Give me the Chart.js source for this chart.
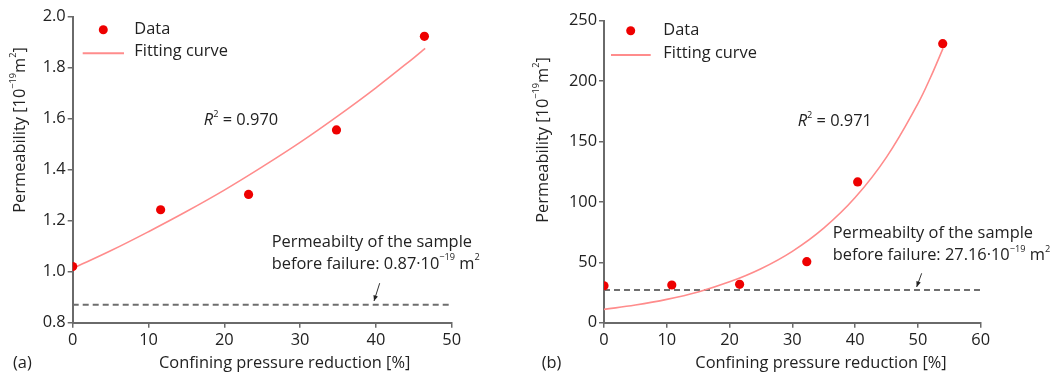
<!DOCTYPE html>
<html>
<head>
<meta charset="utf-8">
<script src="https://cdn.jsdelivr.net/npm/chart.js@4/dist/chart.umd.min.js"></script>
<style>
    body { margin: 0; background: #fff; }
    .panel { position: absolute; top: 0; height: 374px; }
</style>
</head>
<body>
<div class="panel" style="left:0;width:530px"><canvas id="chartA" width="530" height="374"></canvas></div>
<div class="panel" style="left:530px;width:523px"><canvas id="chartB" width="523" height="374"></canvas></div>
<script>
// Panel (a)
const pressureA = [0, 11.6, 23.2, 34.8, 46.4];
const permeabilityA = [1.02, 1.243, 1.303, 1.556, 1.923];
const fitPressureA = [0, 5, 10, 15, 20, 25, 30, 35, 40, 45, 46.5];
const fitPermeabilityA = [1.013, 1.082, 1.157, 1.236, 1.320, 1.411, 1.507, 1.611, 1.721, 1.839, 1.876];
const beforeFailureA = 0.87;
const xTicksA = [0, 10, 20, 30, 40, 50];
const yTicksA = [0.8, 1.0, 1.2, 1.4, 1.6, 1.8, 2.0];

// Panel (b)
const pressureB = [0, 10.8, 21.6, 32.3, 40.4, 53.95];
const permeabilityB = [30.6, 31.2, 31.8, 50.5, 116.5, 231];
const fitPressureB = [0, 5, 10, 15, 20, 25, 30, 35, 40, 45, 50, 52, 54];
const fitPermeabilityB = [11.0, 14.6, 19.3, 25.5, 33.8, 44.7, 59.1, 78.3, 103.6, 137.1, 181.4, 203.0, 227.1];
const beforeFailureB = 27.16;
const xTicksB = [0, 10, 20, 30, 40, 50, 60];
const yTicksB = [0, 50, 100, 150, 200, 250];

const textColor = '#222';
const axisColor = '#6a6a6a';
const pointColor = '#ee0000';
const curveColor = '#ff8c8c';
const fontFamily = '"Open Sans", "DejaVu Sans", sans-serif';
const fontSize = 16.4;

// draws text made of parts, some of them superscript or italic
function richWidth(ctx, parts, size) {
    let w = 0;
    parts.forEach(p => {
        const s = p.sup ? size * 0.56 : size;
        ctx.font = (p.italic ? 'italic ' : '') + s + 'px ' + fontFamily;
        w += ctx.measureText(p.t).width;
    });
    return w;
}

function drawRich(ctx, parts, x, y, size, align) {
    let cx = align === 'center' ? x - richWidth(ctx, parts, size) / 2 : x;
    ctx.textAlign = 'left';
    ctx.textBaseline = 'middle';
    parts.forEach(p => {
        const s = p.sup ? size * 0.56 : size;
        ctx.font = (p.italic ? 'italic ' : '') + s + 'px ' + fontFamily;
        ctx.fillText(p.t, cx, p.sup ? y - size * 0.4 : y);
        cx += ctx.measureText(p.t).width;
    });
}

const yTitleParts = [
    { t: 'Permeability [10' }, { t: '\u221219', sup: true }, { t: 'm' }, { t: '2', sup: true }, { t: ']' }
];
const xTitleParts = [{ t: 'Confining pressure reduction [%]' }];

function makeChart(canvasId, panel) {
    const decor = {
        id: 'decor',
        afterDraw(chart) {
            const ctx = chart.ctx;
            const xs = chart.scales.x;
            const ys = chart.scales.y;
            ctx.save();

            // legend
            const lg = panel.legend;
            ctx.fillStyle = pointColor;
            ctx.beginPath();
            ctx.arc(lg.dotX, lg.dotY, 4.5, 0, Math.PI * 2);
            ctx.fill();
            ctx.strokeStyle = curveColor;
            ctx.lineWidth = 2;
            ctx.beginPath();
            ctx.moveTo(lg.lineX1, lg.lineY);
            ctx.lineTo(lg.lineX2, lg.lineY);
            ctx.stroke();
            ctx.fillStyle = textColor;
            drawRich(ctx, [{ t: chart.data.datasets[0].label }], lg.textX, lg.dotY, fontSize);
            drawRich(ctx, [{ t: chart.data.datasets[1].label }], lg.textX, lg.lineY - 1.5, fontSize);

            // R squared
            drawRich(ctx, [{ t: 'R', italic: true }, { t: '2', sup: true }, { t: ' = ' + panel.r2 }],
                xs.getPixelForValue(panel.r2Pos[0]), ys.getPixelForValue(panel.r2Pos[1]), fontSize);

            // note about the sample before failure
            drawRich(ctx, [{ t: 'Permeabilty of the sample' }],
                xs.getPixelForValue(panel.notePos[0]), ys.getPixelForValue(panel.notePos[1]), fontSize);
            drawRich(ctx, [{ t: 'before failure: ' + panel.noteValue + '\u00b710' }, { t: '\u221219', sup: true },
                { t: ' m' }, { t: '2', sup: true }],
                xs.getPixelForValue(panel.notePos[0]), ys.getPixelForValue(panel.notePos[2]), fontSize);

            // arrow
            const ax1 = xs.getPixelForValue(panel.arrow[0]);
            const ay1 = ys.getPixelForValue(panel.arrow[1]);
            const ax2 = xs.getPixelForValue(panel.arrow[2]);
            const ay2 = ys.getPixelForValue(panel.arrow[3]);
            const ang = Math.atan2(ay2 - ay1, ax2 - ax1);
            ctx.strokeStyle = '#333';
            ctx.lineWidth = 1;
            ctx.beginPath();
            ctx.moveTo(ax1, ay1);
            ctx.lineTo(ax2, ay2);
            ctx.stroke();
            ctx.fillStyle = '#222';
            ctx.beginPath();
            ctx.moveTo(ax2, ay2);
            ctx.lineTo(ax2 - 6 * Math.cos(ang - 0.4), ay2 - 6 * Math.sin(ang - 0.4));
            ctx.lineTo(ax2 - 6 * Math.cos(ang + 0.4), ay2 - 6 * Math.sin(ang + 0.4));
            ctx.closePath();
            ctx.fill();

            // axis titles and panel letter
            ctx.fillStyle = textColor;
            drawRich(ctx, xTitleParts, xs.left + panel.xTitleOffset, 363, fontSize, 'center');
            drawRich(ctx, [{ t: panel.letter }], panel.letterX, 363, fontSize);
            ctx.translate(panel.yTitleX, panel.yTitleY);
            ctx.rotate(-Math.PI / 2);
            drawRich(ctx, yTitleParts, 0, 0, fontSize, 'center');
            ctx.restore();
        }
    };

    return new Chart(document.getElementById(canvasId), {
        type: 'scatter',
        data: {
            datasets: [{
                label: 'Data',
                data: panel.x.map((v, i) => ({ x: v, y: panel.y[i] })),
                backgroundColor: pointColor,
                borderWidth: 0,
                pointRadius: 4.6,
            }, {
                label: 'Fitting curve',
                type: 'line',
                data: panel.fitX.map((v, i) => ({ x: v, y: panel.fitY[i] })),
                borderColor: curveColor,
                borderWidth: 1.6,
                pointRadius: 0,
                tension: 0.4,
                fill: false,
            }, {
                label: 'Before failure',
                type: 'line',
                data: [{ x: panel.xTicks[0], y: panel.before }, { x: panel.xTicks[panel.xTicks.length - 1], y: panel.before }],
                borderColor: '#6e6e6e',
                borderWidth: 2,
                borderDash: [6, 4],
                pointRadius: 0,
                fill: false,
            }],
        },
        options: {
            responsive: false,
            animation: false,
            devicePixelRatio: 1,
            layout: { padding: panel.padding },
            plugins: {
                legend: { display: false },
                tooltip: { enabled: false },
            },
            scales: {
                x: {
                    type: 'linear',
                    min: panel.xTicks[0],
                    max: panel.xTicks[panel.xTicks.length - 1],
                    afterBuildTicks: s => { s.ticks = panel.xTicks.map(v => ({ value: v })); },
                    afterFit: s => { s.height = 51.3; },
                    grid: { drawOnChartArea: false, tickLength: 5, color: axisColor, lineWidth: 1.5 },
                    border: { color: axisColor, width: 2 },
                    ticks: { color: textColor, font: { family: fontFamily, size: fontSize }, padding: 3, autoSkip: false, maxRotation: 0 },
                },
                y: {
                    type: 'linear',
                    min: panel.yTicks[0],
                    max: panel.yTicks[panel.yTicks.length - 1],
                    afterBuildTicks: s => { s.ticks = panel.yTicks.map(v => ({ value: v })); },
                    afterFit: s => { s.width = panel.yAxisWidth; },
                    grid: { drawOnChartArea: false, tickLength: 5, color: axisColor, lineWidth: 1.5 },
                    border: { color: axisColor, width: 2 },
                    ticks: {
                        color: textColor,
                        font: { family: fontFamily, size: fontSize },
                        padding: 2,
                        autoSkip: false,
                        callback: v => panel.yDecimals ? v.toFixed(panel.yDecimals) : String(v),
                    },
                },
            },
        },
        plugins: [decor],
    });
}

makeChart('chartA', {
    x: pressureA, y: permeabilityA, fitX: fitPressureA, fitY: fitPermeabilityA,
    before: beforeFailureA, xTicks: xTicksA, yTicks: yTicksA, yDecimals: 1,
    padding: { left: 0, top: 16.7, right: 78.3, bottom: 0 },
    yAxisWidth: 72.7,
    legend: { dotX: 103.3, dotY: 29.7, lineX1: 82.7, lineX2: 124, lineY: 53.3, textX: 134.3 },
    r2: '0.970', r2Pos: [17.3, 1.592],
    noteValue: '0.87', notePos: [26.25, 1.116, 1.030],
    arrow: [40.5, 0.955, 39.75, 0.885],
    xTitleOffset: 212, letter: '(a)', letterX: 13, yTitleX: 20, yTitleY: 130,
});

makeChart('chartB', {
    x: pressureB, y: permeabilityB, fitX: fitPressureB, fitY: fitPermeabilityB,
    before: beforeFailureB, xTicks: xTicksB, yTicks: yTicksB, yDecimals: 0,
    padding: { left: 0, top: 20.7, right: 72.3, bottom: 0 },
    yAxisWidth: 74,
    legend: { dotX: 100.7, dotY: 30.7, lineX1: 81, lineX2: 120.7, lineY: 55, textX: 133.3 },
    r2: '0.971', r2Pos: [30.85, 166.4],
    noteValue: '27.16', notePos: [36.43, 74, 55.5],
    arrow: [50.6, 40.9, 49.8, 29.6],
    xTitleOffset: 217, letter: '(b)', letterX: 11.7, yTitleX: 13.3, yTitleY: 140,
});
</script>
</body>
</html>
